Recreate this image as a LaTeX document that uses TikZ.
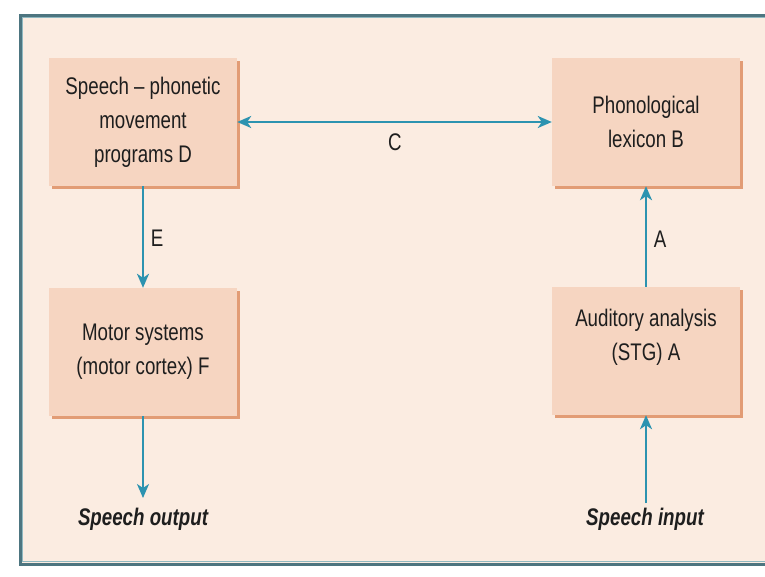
\documentclass[tikz,border=0pt]{standalone}
\usepackage{fontspec}
\setmainfont{Liberation Sans}[FakeStretch=0.78]
\usetikzlibrary{arrows.meta,shadows}
\definecolor{panel}{HTML}{FBECE1}
\definecolor{frame}{HTML}{4D7580}
\definecolor{frameinner}{HTML}{8FB8C0}
\definecolor{boxfill}{HTML}{F6D5C1}
\definecolor{boxshade}{HTML}{E29C75}
\definecolor{flow}{HTML}{2C93B0}
\definecolor{ink}{HTML}{1E1E1E}
\begin{document}
\begin{tikzpicture}[x=1pt,y=-1pt,
  every node/.style={font=\fontsize{24}{34}\selectfont, text=ink},
  stage/.style={rectangle, fill=boxfill, minimum width=188pt, minimum height=128pt,
    inner sep=0pt, align=center,
    drop shadow={shadow xshift=3pt, shadow yshift=-3pt, fill=boxshade, opacity=1}},
  caption/.style={align=center, inner sep=0pt},
  io/.style={font=\fontsize{24}{34}\selectfont\bfseries\itshape, inner sep=0pt},
  tag/.style={inner sep=0pt},
  link/.style={draw=flow, line width=2pt, -{Stealth[length=14pt,width=12pt,inset=4pt]}},
  biglink/.style={draw=flow, line width=2pt,
    {Stealth[length=14pt,width=12pt,inset=4pt]}-{Stealth[length=14pt,width=12pt,inset=4pt]}}
]
\useasboundingbox (0,0) rectangle (765,576);
\clip (0,0) rectangle (765,576);
\fill[white] (0,0) rectangle (765,576);

% outer panel with its double rule
\fill[panel] (20,15) rectangle (790,564);
\draw[frame, line width=3pt] (20,15) rectangle (790,564);
\draw[frameinner, line width=0.8pt] (22.5,17.5) rectangle (790,561.5);

% processing stages
\node[stage] (prog) at (143,122) {Speech -- phonetic\\movement\\programs D};
\node[stage] (lex)  at (646,122) {Phonological\\lexicon B};
\node[stage] (mot)  at (143,352) {Motor systems\\(motor cortex) F};
\node[stage] (aud)  at (646,351) {};
\node[caption] (audtxt) at (646,337) {Auditory analysis\\(STG) A};

% input and output
\node[io] (out) at (143,519) {Speech output};
\node[io] (in)  at (645,519) {Speech input};
\coordinate (outend) at (143,498);
\coordinate (instart) at (646,503);

% connections
\draw[biglink] (prog.east) -- (lex.west);
\draw[link] (prog.south) -- (mot.north);
\draw[link] (aud.north) -- (lex.south);
\draw[link] (mot.south) -- (outend);
\draw[link] (instart) -- (aud.south);

% connection labels
\node[tag] (lc) at (395,142) {C};
\node[tag] (le) at (157,238) {E};
\node[tag] (la) at (660,239) {A};
\end{tikzpicture}
\end{document}
